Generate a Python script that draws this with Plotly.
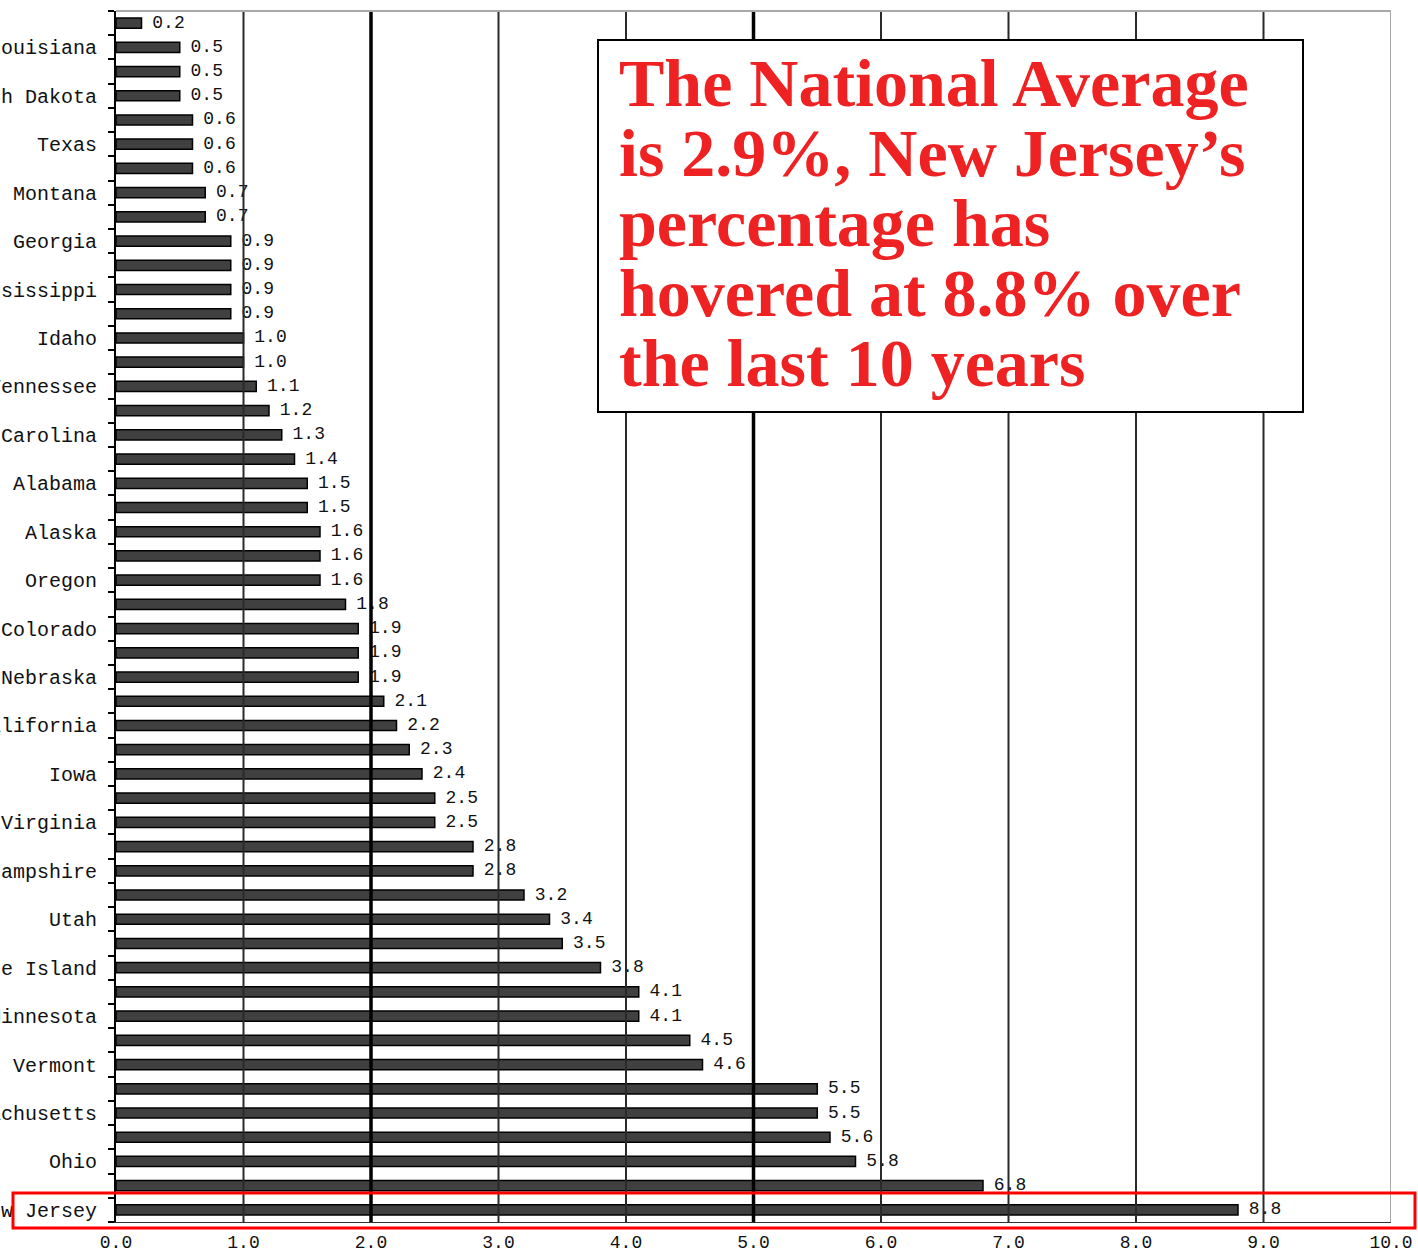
import plotly.graph_objects as go

# Share of residents, by state (percent), sorted ascending
values = [0.2, 0.5, 0.5, 0.5, 0.6, 0.6, 0.6, 0.7, 0.7, 0.9,
          0.9, 0.9, 0.9, 1.0, 1.0, 1.1, 1.2, 1.3, 1.4, 1.5,
          1.5, 1.6, 1.6, 1.6, 1.8, 1.9, 1.9, 1.9, 2.1, 2.2,
          2.3, 2.4, 2.5, 2.5, 2.8, 2.8, 3.2, 3.4, 3.5, 3.8,
          4.1, 4.1, 4.5, 4.6, 5.5, 5.5, 5.6, 5.8, 6.8, 8.8]

# Only every other row carries a state name on the axis
row_labels = ["", "Louisiana", "", "South Dakota", "", "Texas", "", "Montana", "", "Georgia",
              "", "Mississippi", "", "Idaho", "", "Tennessee", "", "South Carolina", "", "Alabama",
              "", "Alaska", "", "Oregon", "", "Colorado", "", "Nebraska", "", "California",
              "", "Iowa", "", "Virginia", "", "New Hampshire", "", "Utah", "", "Rhode Island",
              "", "Minnesota", "", "Vermont", "", "Massachusetts", "", "Ohio", "", "New Jersey"]

x_ticks = [0, 1, 2, 3, 4, 5, 6, 7, 8, 9, 10]
heavy_grid = [2, 5]

callout_lines = ["The National Average",
                 "is 2.9%, New Jersey\u2019s",
                 "percentage has",
                 "hovered at 8.8% over",
                 "the last 10 years"]

W, H = 1418, 1255
M_L, M_R, M_T, M_B = 116, 27, 11, 33
PW, PH = W - M_L - M_R, H - M_T - M_B


def px_x(px):
    return (px - M_L) / PW


def px_y(py):
    return (H - M_B - py) / PH


rows = list(range(len(values)))
labeled = [i for i, s in enumerate(row_labels) if s]
mono = "Liberation Mono"

fig = go.Figure()
fig.add_trace(go.Bar(
    x=values, y=rows, orientation="h", width=0.42,
    marker=dict(color="#404040", line=dict(color="#000000", width=1.5)),
    hoverinfo="skip", showlegend=False,
))
fig.add_trace(go.Scatter(
    x=values, y=rows, yaxis="y2", mode="text",
    text=[f" {v:.1f}" for v in values], textposition="middle right",
    textfont=dict(family=mono, size=18, color="#111111"),
    cliponaxis=False, hoverinfo="skip", showlegend=False,
))

shapes = []
# vertical grid lines, drawn over the bars
for t in x_ticks[1:-1]:
    heavy = t in heavy_grid
    shapes.append(dict(type="line", xref="x", yref="paper", x0=t, x1=t, y0=0, y1=1,
                       line=dict(color="#000000" if heavy else "#2a2a2a", width=3.5 if heavy else 2),
                       layer="above"))
# light frame on the top and right
shapes.append(dict(type="line", xref="paper", yref="paper", x0=0, x1=1, y0=1, y1=1,
                   line=dict(color="#a8a8a8", width=2), layer="above"))
shapes.append(dict(type="line", xref="x", yref="paper", x0=10, x1=10, y0=0, y1=1,
                   line=dict(color="#a8a8a8", width=2), layer="above"))
# callout box
shapes.append(dict(type="rect", xref="paper", yref="paper",
                   x0=px_x(598), x1=px_x(1303), y0=px_y(412), y1=px_y(40),
                   fillcolor="#ffffff", line=dict(color="#000000", width=2), layer="above"))
# highlight around the New Jersey row
shapes.append(dict(type="rect", xref="paper", yref="paper",
                   x0=px_x(13), x1=px_x(1415), y0=px_y(1228), y1=px_y(1193),
                   line=dict(color="#ff0000", width=3), layer="above"))

annotations = []
for k, line in enumerate(callout_lines):
    baseline = 104 + 70 * k
    annotations.append(dict(
        xref="paper", yref="paper", x=px_x(617), y=px_y(baseline - 21),
        xanchor="left", yanchor="middle", showarrow=False, text=line,
        font=dict(family="Liberation Serif", size=68, color="#ee2222", weight="bold"),
    ))

fig.update_layout(
    width=W, height=H,
    margin=dict(l=M_L, r=M_R, t=M_T, b=M_B, pad=0),
    paper_bgcolor="#ffffff", plot_bgcolor="#ffffff",
    bargap=0.58, showlegend=False,
    shapes=shapes, annotations=annotations,
    xaxis=dict(range=[0, 10], tickvals=x_ticks, ticktext=[f"{t:.1f}" for t in x_ticks],
               showgrid=False, zeroline=False, showline=True, linecolor="#333333", linewidth=1,
               ticks="", ticklabelstandoff=3, tickfont=dict(family=mono, size=18, color="#111111"),
               automargin=False, fixedrange=True),
    yaxis=dict(range=[len(values) - 0.5, -0.5], tickvals=[i - 0.5 for i in range(len(values) + 1)],
               showticklabels=False, ticks="outside", ticklen=6, tickwidth=1.5, tickcolor="#000000",
               showline=True, linecolor="#000000", linewidth=2, showgrid=False, zeroline=False,
               automargin=False, fixedrange=True),
    yaxis2=dict(overlaying="y", side="left", anchor="x",
                range=[len(values) - 0.5, -0.5], tickvals=labeled,
                ticktext=[row_labels[i] for i in labeled], ticks="", showline=False,
                showgrid=False, zeroline=False, ticklabelstandoff=18,
                tickfont=dict(family=mono, size=20, color="#111111"),
                automargin=False, fixedrange=True),
)

fig.write_html("out.html", config={"displayModeBar": False})
